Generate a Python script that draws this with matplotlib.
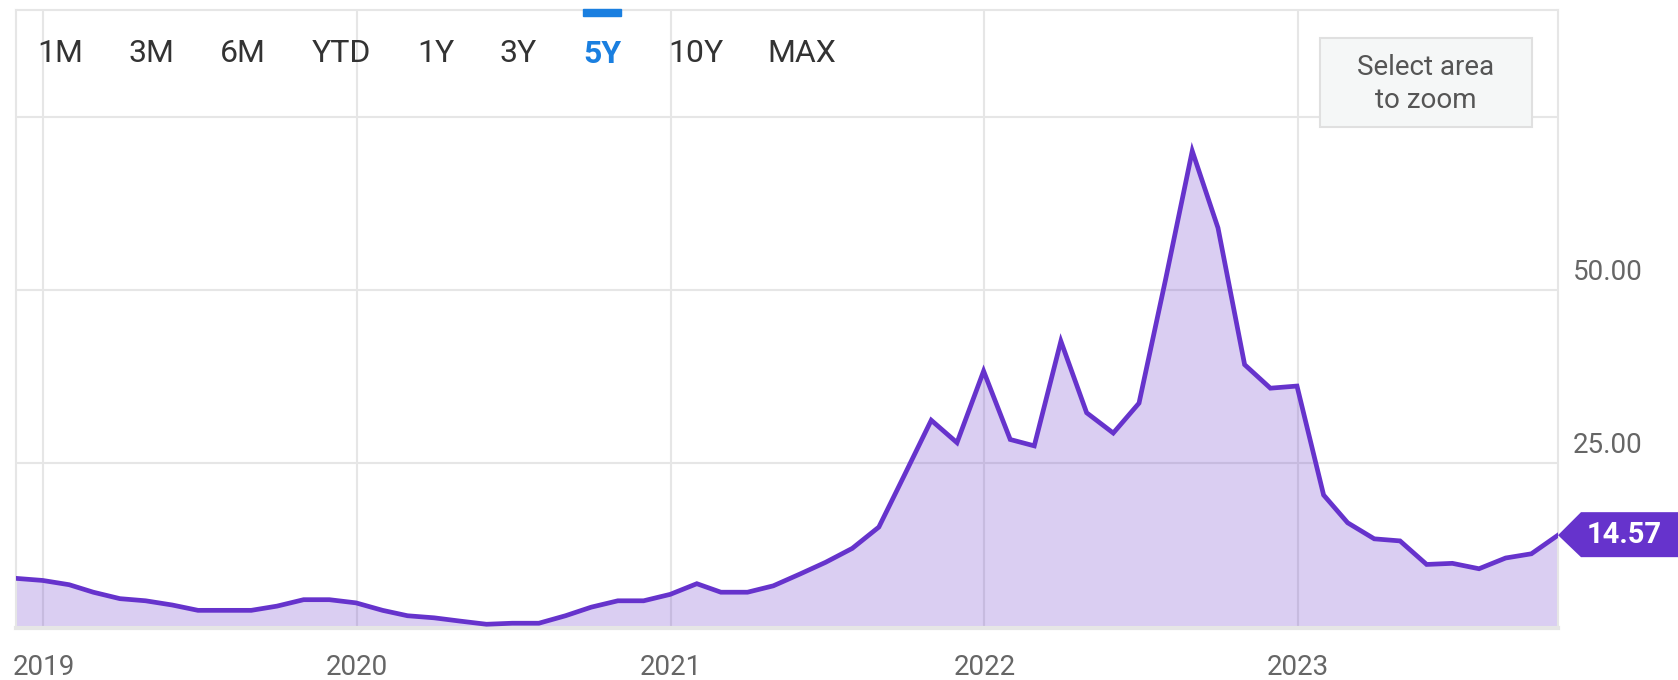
import matplotlib
matplotlib.use("Agg")
import matplotlib.pyplot as plt
import matplotlib.dates as mdates
from matplotlib.patches import Polygon, Rectangle
from matplotlib.transforms import blended_transform_factory
import numpy as np
import pandas as pd

plt.rcParams['font.family'] = ['Roboto', 'DejaVu Sans']

# month-end values, Nov 2018 .. Oct 2023
values = [8.33, 8.03, 7.41, 6.33, 5.40, 5.09, 4.48, 3.71, 3.71, 3.71,
          4.32, 5.25, 5.25, 4.79, 3.71, 2.93, 2.63, 2.16, 1.70, 1.85,
          1.85, 2.93, 4.17, 5.09, 5.09, 6.02, 7.56, 6.33, 6.33, 7.25,
          8.95, 10.65, 12.66, 15.74, 23.30, 31.17, 27.93, 38.27, 28.39, 27.47,
          42.59, 32.25, 29.32, 33.64, 51.54, 70.06, 58.95, 39.20, 35.80, 36.11,
          20.37, 16.36, 14.04, 13.74, 10.34, 10.50, 9.72, 11.27, 11.88, 14.57]
dates = pd.date_range("2018-11-30", periods=len(values), freq="ME")
years = ["2019", "2020", "2021", "2022", "2023"]
ytick_vals = [25, 50, 75]
ytick_labels = ["25.00", "50.00", ""]
buttons = ["1M", "3M", "6M", "YTD", "1Y", "3Y", "5Y", "10Y", "MAX"]
button_x = [60, 151, 243, 341, 436, 518, 602, 696, 802]
active = "5Y"

purple = "#6633cc"
grid_c = "#e6e6e6"

W, H = 1678, 680
fig = plt.figure(figsize=(W / 100, H / 100), dpi=100)
ax = fig.add_axes([16 / W, 1 - 628 / H, (1558 - 16) / W, (628 - 9.5) / H])

ax.plot(dates, values, color=purple, lw=3.4, zorder=3, solid_joinstyle="miter")
ax.fill_between(dates, values, 0, color=purple, alpha=0.24, lw=0, zorder=2)

ax.set_xlim(dates[0], dates[-1])
ax.set_ylim(1.16, 90.5)

year_ticks = [pd.Timestamp(f"{y}-01-01") for y in years]
ax.set_xticks(year_ticks)
ax.set_xticklabels(years)
ax.set_yticks(ytick_vals)
ax.set_yticklabels([])
ax.grid(True, color=grid_c, lw=1.5, zorder=1)
ax.set_axisbelow(True)
ax.tick_params(axis="both", length=0)
ax.tick_params(axis="x", pad=19, labelsize=20, labelcolor="#666666")
ax.tick_params(axis="y", labelright=False, labelleft=False)
for s in ax.spines.values():
    s.set_color(grid_c)
    s.set_linewidth(1.5)
ax.spines["bottom"].set_linewidth(3)

# right side value labels
tr = blended_transform_factory(ax.transAxes, ax.transData)
for v, lab in zip(ytick_vals, ytick_labels):
    if lab:
        ax.text(1 + 15 / (1558 - 16), v + 0.5, lab, transform=tr, ha="left", va="bottom",
                fontsize=20, color="#666666", clip_on=False)

# range buttons
for b, bx in zip(buttons, button_x):
    if b == active:
        fig.text(bx / W, 1 - 54 / H, b, ha="center", va="center", fontsize=23,
                 color="#1a7fe0", fontweight="bold")
        fig.patches.append(Rectangle(((bx - 19) / W, 1 - 16 / H), 38 / W, 7 / H,
                                     transform=fig.transFigure, color="#1a7fe0"))
    else:
        fig.text(bx / W, 1 - 54 / H, b, ha="center", va="center", fontsize=23,
                 color="#333333")

# zoom hint box
fig.patches.append(Rectangle((1320 / W, 1 - 127 / H), 212 / W, 89 / H,
                             transform=fig.transFigure, facecolor="#f5f7f7",
                             edgecolor="#e0e0e0", lw=1.5))
fig.text(1426 / W, 1 - 84 / H, "Select area\nto zoom", ha="center", va="center",
         fontsize=20, color="#555555", linespacing=1.3)

# last value badge
fig.canvas.draw()
tipx, tipy = ax.transData.transform((mdates.date2num(dates[-1]), values[-1]))
pts = [(tipx, tipy), (tipx + 23, tipy + 23), (W + 5, tipy + 23),
       (W + 5, tipy - 22), (tipx + 23, tipy - 22)]
fig.patches.append(Polygon(pts, closed=True, transform=None, facecolor=purple,
                           edgecolor="none"))
fig.text((tipx + 66) / W, tipy / H, f"{values[-1]:.2f}", ha="center", va="center",
         fontsize=21, color="white", fontweight="bold")

fig.savefig("out.png", dpi=100)
